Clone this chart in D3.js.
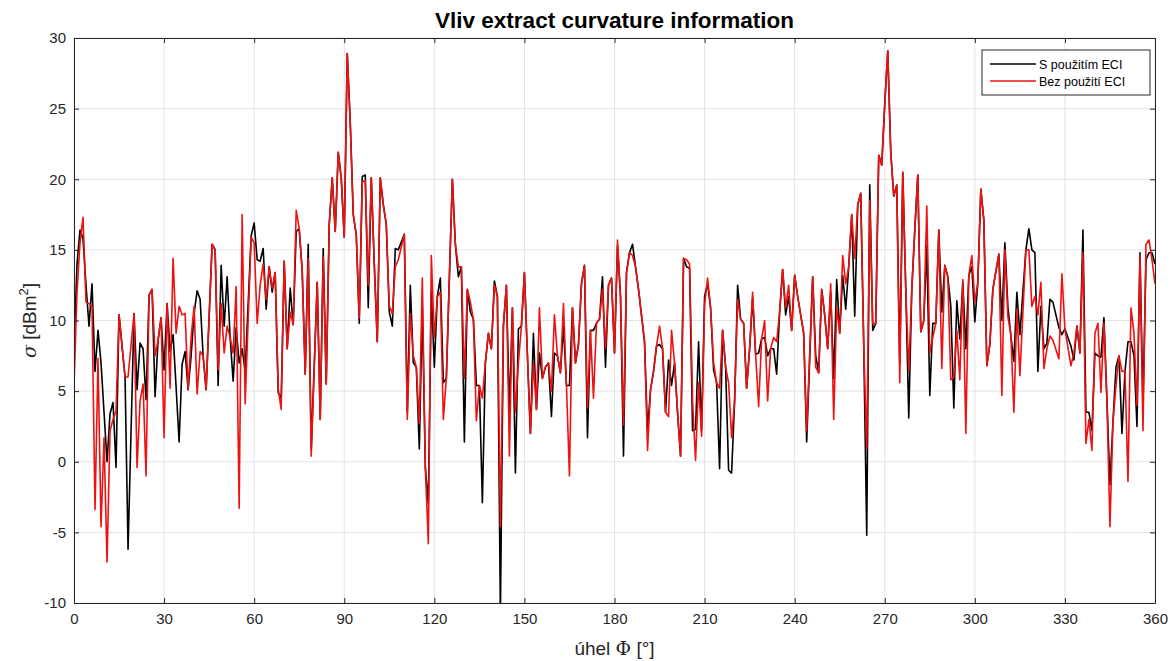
<!DOCTYPE html>
<html>
<head>
<meta charset="utf-8">
<script src="https://cdnjs.cloudflare.com/ajax/libs/d3/7.8.5/d3.min.js"></script>
<style>
  body { margin: 0; background: #fff; }
  text { font-family: "Liberation Sans", Arial, sans-serif; }
</style>
</head>
<body>
<div id="linegraph"></div>
<script>
// angles [deg] of the line vertices
var angles = [
  0, 1, 2, 3, 4, 5, 6, 7, 8, 9, 10, 11, 12, 13, 14, 15, 17, 18, 20, 21, 22, 23, 24, 25, 26, 27, 28, 29,
  30, 31, 32, 33, 34, 35, 36, 37, 38, 39, 40, 41, 42, 43, 44, 46, 47, 48, 49, 50, 51, 52, 53, 54, 55, 56, 57, 59,
  60, 61, 62, 63, 64, 65, 66, 67, 68, 69, 70, 71, 72, 73, 74, 75, 76, 77, 78, 79, 81, 82, 83, 84, 85, 86, 87, 88, 89,
  90, 91, 92, 93, 94, 95, 96, 97, 98, 99, 100, 101, 102, 103, 104, 105, 106, 107, 108, 110, 111, 112, 113, 114, 115, 116, 117, 118, 119,
  120, 121, 122, 123, 124, 126, 127, 128, 129, 130, 131, 132, 133, 134, 135, 136, 137, 138, 139, 140, 141, 142, 143, 144, 145, 146, 147, 148, 149,
  150, 151, 152, 153, 154, 155, 156, 157, 158, 159, 160, 161, 162, 163, 164, 165, 166, 167, 168, 169, 170, 171, 172, 173, 174, 175, 176, 177, 178, 179,
  180, 181, 182, 183, 184, 185, 186, 187, 188, 190, 191, 192, 193, 194, 195, 196, 197, 198, 199, 200, 201, 202, 203, 204, 205, 206, 207, 208, 209,
  210, 211, 212, 213, 214, 215, 216, 217, 218, 219, 220, 221, 222, 223, 224, 225, 226, 227, 228, 229, 230, 231, 232, 233, 234, 235, 236, 237, 238, 239,
  240, 241, 243, 244, 246, 247, 248, 249, 250, 251, 252, 253, 254, 255, 256, 257, 258, 259, 260, 261, 262, 263, 264, 265, 266, 267, 268, 269,
  270, 271, 272, 273, 274, 275, 276, 277, 278, 279, 280, 281, 282, 283, 284, 285, 286, 287, 288, 289, 290, 291, 292, 293, 294, 295, 296, 297, 298, 299,
  300, 301, 302, 303, 304, 305, 306, 308, 309, 310, 311, 312, 313, 314, 315, 317, 318, 319, 320, 321, 322, 323, 324, 325, 326, 328, 329,
  330, 332, 333, 334, 335, 336, 337, 338, 339, 340, 341, 342, 343, 344, 345, 346, 347, 348, 349, 350, 351, 352, 353, 354, 355, 356, 357, 358, 359, 360
];

// S použitím ECI (black)
var withEci = [
  8.0, 14, 16.4, 15.8, 12.5, 9.6, 12.6, 6.4, 9.3, 7.0, 3.5, 0.0, 3.4, 4.2, -0.4, 10.4, 6.0, -6.2, 10.5, 5.1, 8.4, 8.0, 4.4, 11.8, 12.2, 4.6, 8.6, 10.2,
  6.5, 11.2, 7.8, 9.0, 5.3, 1.4, 6.9, 7.8, 5.1, 7.5, 10.5, 12.1, 11.5, 7.5, 5.1, 15.4, 15.0, 5.4, 13.9, 9.6, 13.1, 8.8, 5.7, 9.5, 7.0, 8.0, 6.4, 16.0,
  16.9, 14.3, 14.2, 15.1, 10.8, 13.8, 12.0, 13.4, 4.9, 4.5, 14.2, 8.0, 12.3, 9.7, 16.3, 16.5, 13.5, 6.2, 15.4, 0.9, 12.7, 3.0, 15.1, 5.5, 16.8, 20.1, 16.3, 21.9, 20.1,
  15.9, 28.9, 24.0, 17.5, 16.1, 9.8, 20.2, 20.3, 10.9, 20.1, 14.0, 8.5, 20.1, 18.2, 16.8, 10.6, 9.6, 15.1, 15.0, 16.1, 3.5, 12.5, 7.0, 6.7, 0.9, 11.0, -0.4, -3.0, 12.0,
  6.7, 11.7, 13.0, 5.6, 5.9, 20.0, 15.4, 13.1, 13.8, 1.4, 12.2, 10.6, 10.1, 5.4, 5.4, -2.9, 7.0, 9.1, 8.0, 12.8, 11.7, -10.8, 9.6, 12.5, 3.5, 10.9, -0.8, 9.4, 9.6,
  13.4, 7.5, 2.0, 9.1, 3.7, 7.7, 5.9, 6.7, 7.0, 3.2, 7.7, 7.5, 6.3, 9.6, 5.4, 5.4, 10.9, 7.0, 8.3, 12.6, 13.9, 1.7, 9.3, 9.3, 9.8, 10.1, 13.1, 6.7, 12.5, 13.0,
  7.7, 15.3, 11.7, 0.4, 13.4, 14.8, 15.4, 13.8, 12.2, 8.5, 2.2, 5.1, 6.4, 8.2, 8.3, 8.0, 3.5, 7.2, 5.4, 7.0, 3.5, 0.4, 14.4, 13.8, 13.7, 2.2, 2.3, 8.5, 2.2,
  11.7, 12.6, 10.9, 6.5, 5.6, -0.5, 9.3, 6.7, -0.6, -0.8, 4.3, 12.5, 10.1, 9.8, 5.2, 8.0, 11.6, 7.6, 7.7, 8.7, 8.8, 7.5, 8.0, 8.0, 6.2, 10.6, 13.6, 10.4, 11.7, 9.3,
  13.2, 11.7, 9.1, 1.4, 13.1, 7.5, 6.3, 12.2, 10.4, 8.0, 12.0, 5.9, 12.9, 9.1, 13.2, 10.8, 13.8, 17.5, 10.3, 18.2, 19.0, 8.3, -5.2, 19.6, 9.3, 9.8, 21.7, 21.0,
  25.3, 29.1, 21.9, 18.8, 19.6, 6.9, 20.5, 12.2, 3.1, 12.2, 16.4, 20.3, 9.2, 10.0, 15.3, 4.7, 9.8, 9.8, 16.4, 10.6, 13.9, 13.1, 11.0, 3.8, 11.4, 8.7, 12.7, 8.0, 13.2, 13.8,
  9.9, 12.7, 19.3, 17.1, 6.8, 8.3, 12.2, 14.7, 10.0, 15.5, 11.0, 8.9, 7.1, 12.0, 9.0, 15.0, 16.5, 15.0, 14.8, 6.4, 11.0, 8.0, 8.4, 11.5, 11.3, 9.5, 9.0,
  9.4, 8.2, 7.2, 9.6, 7.7, 16.4, 3.5, 3.5, 2.2, 7.7, 7.5, 7.4, 10.2, 4.3, -1.6, 2.8, 6.7, 7.5, 2.0, 6.4, 8.5, 8.5, 7.5, 2.5, 14.8, 4.0, 14.3, 14.8, 14.8, 14.0
];

// Bez použití ECI (red)
var withoutEci = [
  5.3, 12, 15.5, 17.3, 11.3, 11.2, 11.0, -3.4, 7.3, -4.6, 1.7, -7.1, 2.2, 3.0, 3.6, 10.4, 6.0, 6.0, 10.5, -0.4, 4.3, 5.5, -1.0, 11.8, 12.2, 7.5, 8.6, 10.2,
  1.7, 11.2, 5.2, 14.4, 9.1, 11.0, 10.4, 10.5, 5.1, 8.8, 11.0, 4.8, 7.8, 7.5, 5.1, 15.4, 15.0, 6.5, 11.2, 7.7, 9.6, 8.8, 7.7, 12.4, -3.3, 17.5, 4.1, 15.9,
  15.5, 9.8, 12.5, 14.0, 11.5, 13.8, 12.3, 13.4, 5.2, 3.7, 14.2, 8.0, 10.6, 9.7, 17.8, 16.5, 13.5, 6.2, 14.4, 0.4, 12.7, 3.0, 14.5, 5.5, 16.8, 20.1, 16.3, 21.9, 20.1,
  15.9, 28.9, 24.0, 17.5, 16.1, 10.2, 19.8, 19.9, 12.5, 20.1, 14.0, 8.5, 20.1, 18.2, 16.8, 11.0, 10.5, 13.8, 14.3, 16.1, 3.0, 10.5, 7.5, 6.7, 2.7, 13.0, -0.4, -5.8, 14.6,
  8.8, 11.7, 12.0, 3.0, 5.9, 20.0, 15.4, 13.8, 13.8, 5.9, 12.2, 11.3, 10.1, 2.9, 5.4, 4.5, 7.0, 9.1, 8.0, 12.5, 11.7, -4.6, 9.6, 12.5, 0.4, 10.9, 3.5, 7.0, 9.6,
  13.4, 7.5, 2.0, 7.0, 3.7, 10.9, 5.9, 6.7, 7.0, 5.0, 10.4, 7.5, 6.3, 11.2, 5.4, -1.0, 10.9, 7.0, 8.3, 12.6, 13.9, 3.8, 9.3, 4.5, 9.8, 10.1, 12.2, 8.0, 12.5, 13.0,
  7.7, 15.7, 11.7, 2.6, 13.4, 14.8, 14.6, 13.8, 12.2, 8.5, 0.8, 5.1, 6.4, 8.2, 9.6, 8.0, 3.5, 3.2, 9.3, 7.0, 3.5, 0.4, 14.4, 14.3, 14.0, 4.3, 0.1, 5.6, 1.8,
  11.1, 13.0, 10.9, 7.0, 5.6, 5.2, 9.3, 6.7, 5.6, 1.7, 4.3, 11.5, 10.1, 9.8, 5.2, 8.0, 12.0, 7.6, 3.9, 8.7, 10.0, 4.3, 8.0, 8.8, 8.5, 10.6, 13.6, 10.9, 12.5, 9.3,
  13.2, 11.7, 9.1, 2.2, 13.1, 6.7, 6.3, 12.2, 10.4, 8.0, 12.6, 3.0, 10.9, 9.1, 14.6, 12.6, 13.8, 17.5, 14.4, 18.2, 19.0, 8.3, 0.9, 18.5, 9.8, 9.8, 21.7, 21.0,
  25.3, 29.1, 21.9, 18.8, 19.6, 5.6, 20.5, 12.2, 6.4, 12.2, 16.4, 20.3, 9.2, 10.0, 18.1, 7.7, 8.8, 9.8, 16.4, 6.6, 13.9, 13.1, 5.8, 6.0, 9.3, 5.8, 12.9, 2.0, 13.2, 14.6,
  11.3, 12.7, 19.3, 17.1, 6.8, 8.3, 12.2, 14.7, 4.7, 15.0, 10.3, 9.0, 3.5, 10.8, 6.1, 15.0, 15.0, 11.0, 11.7, 10.4, 12.7, 6.6, 8.0, 8.9, 8.6, 7.3, 13.3,
  9.4, 6.8, 7.7, 9.6, 7.7, 14.8, 1.3, 3.0, 0.8, 9.1, 9.8, 4.9, 9.8, 4.3, -4.6, 2.8, 5.4, 7.5, 6.4, 6.4, -1.4, 10.9, 9.1, 4.0, 14.6, 2.2, 15.4, 15.7, 14.3, 12.6
];

var seriesNames = ["S použitím ECI", "Bez použití ECI"];
var seriesColors = ["#000000", "#ee1111"];
var xTicks = d3.range(0, 361, 30);
var yTicks = d3.range(-10, 31, 5);

var svgWidth = 1171,
    svgHeight = 661;

var margin = {
  top: 38,
  right: 16,
  bottom: 58,
  left: 74
};

var chartWidth = svgWidth - margin.left - margin.right;
var chartHeight = svgHeight - margin.top - margin.bottom;

var svg = d3.select("#linegraph")
    .append("svg")
    .attr("width", svgWidth)
    .attr("height", svgHeight);

var chartGroup = svg.append("g")
    .attr("transform", `translate(${margin.left}, ${margin.top})`);

var xScale = d3.scaleLinear()
    .domain([0, 360])
    .range([0, chartWidth]);

var yScale = d3.scaleLinear()
    .domain([-10, 30])
    .range([chartHeight, 0]);

// grid
chartGroup.append("g")
    .selectAll("line")
    .data(xTicks)
    .enter()
    .append("line")
    .attr("x1", d => xScale(d))
    .attr("x2", d => xScale(d))
    .attr("y1", 0)
    .attr("y2", chartHeight)
    .attr("stroke", "#e3e3e3")
    .attr("stroke-width", 1);

chartGroup.append("g")
    .selectAll("line")
    .data(yTicks)
    .enter()
    .append("line")
    .attr("x1", 0)
    .attr("x2", chartWidth)
    .attr("y1", d => yScale(d))
    .attr("y2", d => yScale(d))
    .attr("stroke", "#e3e3e3")
    .attr("stroke-width", 1);

// clip so the dip at 142 stops at the axis
chartGroup.append("clipPath")
    .attr("id", "plotclip")
    .append("rect")
    .attr("width", chartWidth)
    .attr("height", chartHeight);

var drawLine = d3.line()
    .x(d => xScale(d[0]))
    .y(d => yScale(d[1]));

var lineData = [
  angles.map((a, i) => [a, withEci[i]]),
  angles.map((a, i) => [a, withoutEci[i]])
];

lineData.forEach(function(pts, i) {
  chartGroup.append("path")
      .datum(pts)
      .attr("clip-path", "url(#plotclip)")
      .attr("d", drawLine)
      .attr("stroke", seriesColors[i])
      .style("stroke-width", 1.6)
      .style("stroke-linejoin", "round")
      .style("fill", "none");
});

// axes, matlab style ticks inside
var axisColor = "#262626";
var plainNum = d => String(d);

var bottomAxis = d3.axisBottom(xScale).tickValues(xTicks).tickFormat(plainNum).tickSizeInner(-5).tickSizeOuter(0).tickPadding(10);
var leftAxis = d3.axisLeft(yScale).tickValues(yTicks).tickFormat(plainNum).tickSizeInner(-5).tickSizeOuter(0).tickPadding(8);
var topAxis = d3.axisTop(xScale).tickValues(xTicks).tickSizeInner(-5).tickSizeOuter(0).tickFormat("");
var rightAxis = d3.axisRight(yScale).tickValues(yTicks).tickSizeInner(-5).tickSizeOuter(0).tickFormat("");

var xAxis = chartGroup.append("g")
    .attr("transform", "translate(0, " + chartHeight + ")")
    .call(bottomAxis);

var yAxis = chartGroup.append("g").call(leftAxis);

chartGroup.append("g").call(topAxis);
chartGroup.append("g")
    .attr("transform", "translate(" + chartWidth + ", 0)")
    .call(rightAxis);

chartGroup.selectAll(".domain").attr("stroke", axisColor).attr("stroke-width", 1);
chartGroup.selectAll(".tick line").attr("stroke", axisColor);
chartGroup.selectAll(".tick text")
    .attr("fill", axisColor)
    .style("font-size", "15px")
    .style("font-family", "Liberation Sans, Arial, sans-serif");

// title and labels
svg.append("text")
    .attr("x", margin.left + chartWidth / 2)
    .attr("y", 28)
    .attr("text-anchor", "middle")
    .style("font-size", "22.5px")
    .style("font-weight", "bold")
    .attr("fill", "#000")
    .text("Vliv extract curvature information");

var xLabel = svg.append("text")
    .attr("x", margin.left + chartWidth / 2)
    .attr("y", 655)
    .attr("text-anchor", "middle")
    .style("font-size", "19px")
    .attr("fill", axisColor);
xLabel.append("tspan").text("úhel ");
xLabel.append("tspan").style("font-family", "DejaVu Serif, serif").text("Φ");
xLabel.append("tspan").text(" [°]");

var yLabel = svg.append("text")
    .attr("transform", `translate(36, ${margin.top + chartHeight / 2}) rotate(-90)`)
    .attr("text-anchor", "middle")
    .style("font-size", "19px")
    .attr("fill", axisColor);
yLabel.append("tspan").style("font-family", "DejaVu Serif, serif").style("font-style", "italic").text("σ");
yLabel.append("tspan").text(" [dBm");
yLabel.append("tspan").attr("dy", -8).style("font-size", "13px").text("2");
yLabel.append("tspan").attr("dy", 8).text("]");

// legend
var legend = svg.append("g")
    .attr("transform", "translate(982, 50)");

legend.append("rect")
    .attr("width", 168)
    .attr("height", 45)
    .attr("fill", "#fff")
    .attr("stroke", axisColor)
    .attr("stroke-width", 1);

seriesNames.forEach(function(name, i) {
  var row = legend.append("g").attr("transform", `translate(0, ${14 + i * 17})`);
  row.append("line")
      .attr("x1", 8)
      .attr("x2", 54)
      .attr("stroke", seriesColors[i])
      .attr("stroke-width", 1.5);
  row.append("text")
      .attr("x", 57)
      .attr("y", 4.5)
      .style("font-size", "12.5px")
      .attr("fill", "#000")
      .text(name);
});
</script>
</body>
</html>
